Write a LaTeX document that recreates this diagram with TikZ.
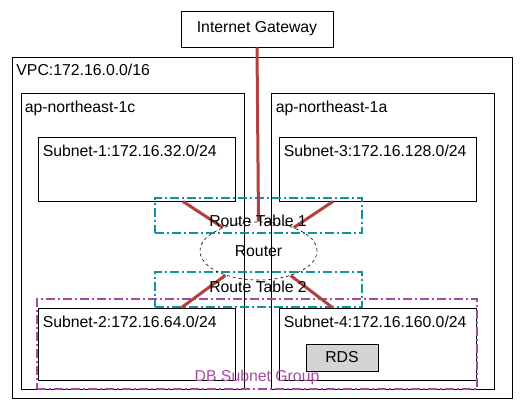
\documentclass[tikz,border=0pt]{standalone}
\usepackage{fontspec}
\setmainfont{Liberation Sans}
\usepackage{tikz}
\usetikzlibrary{shapes.geometric}
\definecolor{linkred}{HTML}{B0413E}
\definecolor{rtteal}{HTML}{12919E}
\definecolor{dbpurple}{HTML}{A44CA4}
\definecolor{rdsgray}{HTML}{D4D4D4}

\begin{document}
\begin{tikzpicture}[x=1pt, y=-1pt,
        every node/.style={font=\fontsize{15.8}{18}\selectfont},
        box/.style={draw, line width=0.9pt, inner sep=0pt},
        lbl/.style={inner sep=0pt, anchor=base west},
        rtbox/.style={draw=rtteal, line width=1.8pt, inner sep=0pt,
            dash pattern=on 9pt off 3pt on 2pt off 3pt,
            minimum width=207, minimum height=35},
        link/.style={draw=linkred, line width=3pt},
    ]
    \useasboundingbox (0,0) rectangle (526,409);
    % gateway and vpc
    \node[box, minimum width=152, minimum height=36] (igw) at (257, 29) {Internet Gateway};
    \node[box, minimum width=500, minimum height=341] (vpc) at (262, 227.5) {};
    \node[lbl] (vpc-t) at ([shift={(4.7,19)}]vpc.north west) {VPC:172.16.0.0/16};
    % availability zones
    \node[box, minimum width=223, minimum height=296] (azc) at (132.5, 241) {};
    \node[lbl] (azc-t) at ([shift={(4,19.5)}]azc.north west) {ap-northeast-1c};
    \node[box, minimum width=223, minimum height=296] (aza) at (382.5, 241) {};
    \node[lbl] (aza-t) at ([shift={(5,19.5)}]aza.north west) {ap-northeast-1a};
    % subnets
    \node[box, minimum width=197, minimum height=64] (sub1) at (136.5, 169) {};
    \node[lbl] (sub1-t) at ([shift={(5,19.7)}]sub1.north west) {Subnet-1:172.16.32.0/24};
    \node[box, minimum width=197, minimum height=64] (sub3) at (377.5, 169) {};
    \node[lbl] (sub3-t) at ([shift={(5,19.7)}]sub3.north west) {Subnet-3:172.16.128.0/24};
    \node[box, minimum width=197, minimum height=72] (sub2) at (136.5, 344) {};
    \node[lbl] (sub2-t) at ([shift={(5,19.7)}]sub2.north west) {Subnet-2:172.16.64.0/24};
    \node[box, minimum width=197, minimum height=72] (sub4) at (377.5, 344) {};
    \node[lbl] (sub4-t) at ([shift={(5,19.7)}]sub4.north west) {Subnet-4:172.16.160.0/24};
    \node[box, fill=rdsgray, minimum width=72, minimum height=27] (rds) at (342, 357.5) {RDS};
    % db subnet group
    \node[draw=dbpurple, line width=1.8pt, dash pattern=on 9pt off 3pt on 2pt off 3pt,
        minimum width=440, minimum height=90, inner sep=0pt] (dbgrp) at (257, 344) {};
    \node[inner sep=0pt, anchor=base, text=dbpurple] (dbgrp-t) at (257, 381.5) {DB Subnet Group};
    % route tables and router
    \node[rtbox] (rt1) at (258.5, 215.5) {};
    \node[rtbox] (rt2) at (258.5, 289.5) {};
    \node[ellipse, draw, line width=0.6pt, dash pattern=on 3pt off 3pt, inner sep=0pt,
        minimum width=117, minimum height=58] (router) at (258.5, 251) {};
    % links
    \draw[link] (igw.south) -- (router.north);
    \draw[link] ([xshift=46.5]sub1.south) -- (router);
    \draw[link] ([xshift=-44.5]sub3.south) -- (router);
    \draw[link] ([xshift=45]sub2.north) -- (router);
    \draw[link] ([xshift=-45]sub4.north) -- (router);
    % labels on top
    \node[inner sep=0pt, anchor=base] (rt1-t) at (258, 226.7) {Route Table 1};
    \node[inner sep=0pt, anchor=base] (rt2-t) at (258, 292) {Route Table 2};
    \node[inner sep=0pt, anchor=base] (router-t) at (258.5, 256) {Router};
\end{tikzpicture}
\end{document}
